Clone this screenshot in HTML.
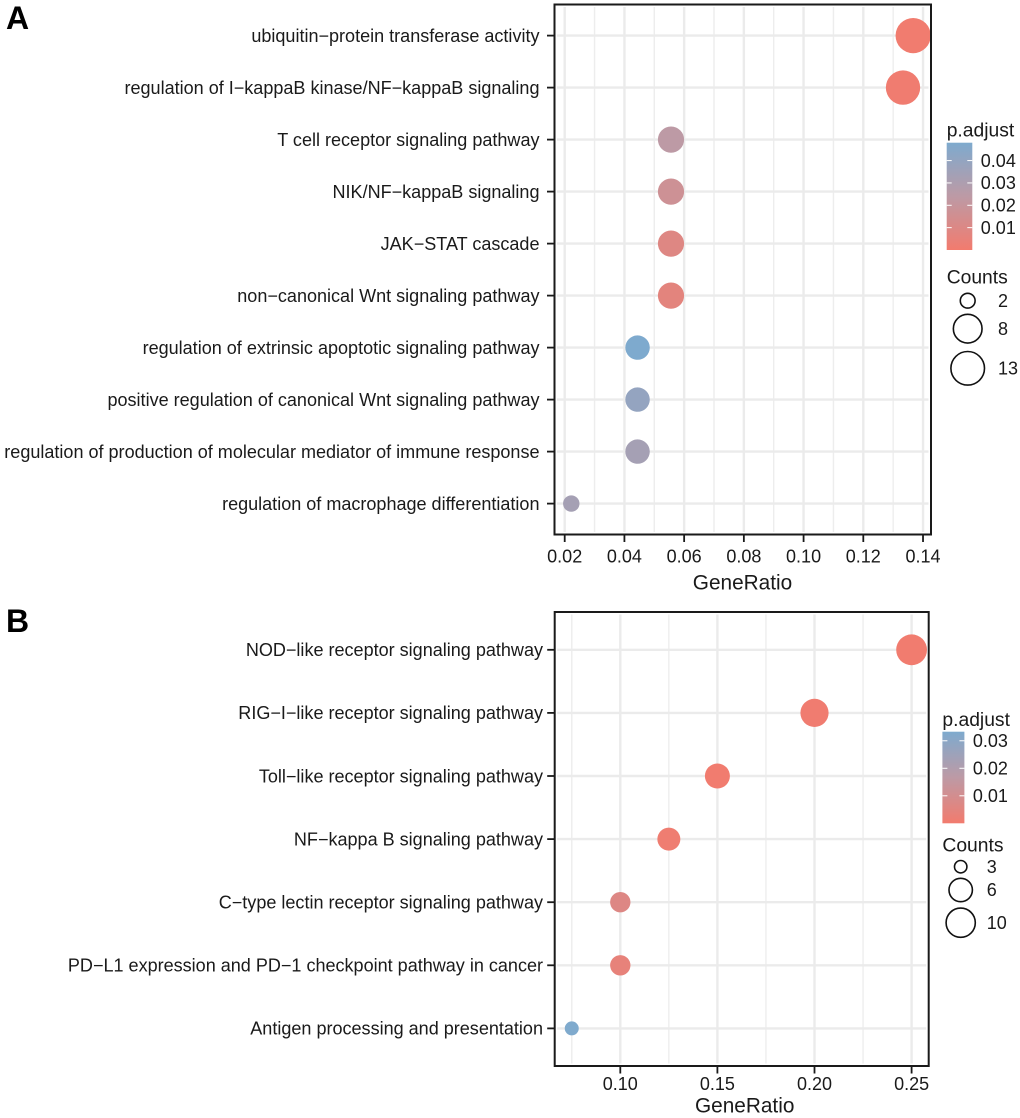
<!DOCTYPE html>
<html lang="en">
<head>
<meta charset="utf-8">
<title>GO and KEGG enrichment dot plots</title>
<style>
  html, body { margin: 0; padding: 0; background: #fff; }
  svg { display: block; }
  text { font-family: "Liberation Sans", Arial, sans-serif; fill: #1a1a1a; }
</style>
</head>
<body>
<svg id="chart" xmlns="http://www.w3.org/2000/svg" width="1020" height="1118" viewBox="0 0 1020 1118">
  <defs>
    <linearGradient id="bar-gradient" x1="0" y1="1" x2="0" y2="0">
      <stop offset="0" stop-color="#f27b6e"/>
      <stop offset="0.5" stop-color="#bd9aa5"/>
      <stop offset="1" stop-color="#7eaace"/>
    </linearGradient>
  </defs>
  <text x="6" y="29" font-size="32" font-weight="bold" style="fill:#000">A</text>
  <text x="6" y="632" font-size="32" font-weight="bold" style="fill:#000">B</text>
</svg>
<script>
// Panel A data
const categoriesA = [
  "ubiquitin\u2212protein transferase activity",
  "regulation of I\u2212kappaB kinase/NF\u2212kappaB signaling",
  "T cell receptor signaling pathway",
  "NIK/NF\u2212kappaB signaling",
  "JAK\u2212STAT cascade",
  "non\u2212canonical Wnt signaling pathway",
  "regulation of extrinsic apoptotic signaling pathway",
  "positive regulation of canonical Wnt signaling pathway",
  "regulation of production of molecular mediator of immune response",
  "regulation of macrophage differentiation"
];
const geneRatioA = [0.1367, 0.1333, 0.0556, 0.0556, 0.0556, 0.0556, 0.0444, 0.0444, 0.0444, 0.0222];
const countsA = [13, 12, 5, 5, 5, 5, 4, 4, 4, 2];
const pAdjustA = [0.0005, 0.0008, 0.024, 0.0168, 0.009, 0.0067, 0.048, 0.0396, 0.033, 0.033];
const xMajorA = [0.02, 0.04, 0.06, 0.08, 0.10, 0.12, 0.14];
const xMinorA = [0.03, 0.05, 0.07, 0.09, 0.11, 0.13];
const xLabelsA = ["0.02", "0.04", "0.06", "0.08", "0.10", "0.12", "0.14"];
const barTicksA = [0.04, 0.03, 0.02, 0.01];
const barLabelsA = ["0.04", "0.03", "0.02", "0.01"];
const sizeKeysA = [2, 8, 13];

// Panel B data
const categoriesB = [
  "NOD\u2212like receptor signaling pathway",
  "RIG\u2212I\u2212like receptor signaling pathway",
  "Toll\u2212like receptor signaling pathway",
  "NF\u2212kappa B signaling pathway",
  "C\u2212type lectin receptor signaling pathway",
  "PD\u2212L1 expression and PD\u22121 checkpoint pathway in cancer",
  "Antigen processing and presentation"
];
const geneRatioB = [0.25, 0.20, 0.15, 0.125, 0.10, 0.10, 0.075];
const countsB = [10, 8, 6, 5, 4, 4, 3];
const pAdjustB = [0.0004, 0.0006, 0.0004, 0.001, 0.0067, 0.0035, 0.033];
const xMajorB = [0.10, 0.15, 0.20, 0.25];
const xMinorB = [0.075, 0.125, 0.175, 0.225];
const xLabelsB = ["0.10", "0.15", "0.20", "0.25"];
const barTicksB = [0.03, 0.02, 0.01];
const barLabelsB = ["0.03", "0.02", "0.01"];
const sizeKeysB = [3, 6, 10];

const NS = "http://www.w3.org/2000/svg";
const root = document.getElementById("chart");

function make(tag, attrs, parent) {
  const node = document.createElementNS(NS, tag);
  for (const key in attrs) node.setAttribute(key, attrs[key]);
  parent.appendChild(node);
  return node;
}

function mixColor(t) {
  const low = [242, 123, 110], mid = [189, 154, 165], high = [126, 170, 206];
  const c = Math.max(0, Math.min(1, t));
  const a = c < 0.5 ? low : mid;
  const b = c < 0.5 ? mid : high;
  const f = c < 0.5 ? c * 2 : (c - 0.5) * 2;
  return "rgb(" + a.map((v, i) => Math.round(v + (b[i] - v) * f)).join(",") + ")";
}

function drawPanel(o) {
  const g = make("g", {}, root);
  
  

  const xScale = v => o.x0 + (v - o.v0) * o.xPerUnit;
  const yScale = i => o.yFirst + i * o.yStep;
  const rScale = c => o.rMin + (o.rMax - o.rMin) * Math.sqrt((c - o.cMin) / (o.cMax - o.cMin));
  const barY = p => o.barBottom - (p / o.pMax) * (o.barBottom - o.barTop);
  const inset = 2.5;

  // Minor vertical grid
  o.xMinor.forEach(v => {
    const line = make("line", { x1: xScale(v), x2: xScale(v), y1: o.top + inset, y2: o.bottom - inset, stroke: "#ededed", "stroke-width": 1.4 }, g);
    
    
  });
  // Major vertical grid
  o.xMajor.forEach(v => {
    const line = make("line", { x1: xScale(v), x2: xScale(v), y1: o.top + inset, y2: o.bottom - inset, stroke: "#ebebeb", "stroke-width": 2.4 }, g);
    
    
  });
  // Horizontal grid, y ticks and category labels
  o.categories.forEach((name, i) => {
    const y = yScale(i);
    const grid = make("line", { x1: o.left + inset, x2: o.right - inset, y1: y, y2: y, stroke: "#ebebeb", "stroke-width": 2.4 }, g);
    
    
    const tick = make("line", { x1: o.left - 7.5, x2: o.left, y1: y, y2: y, stroke: "#1a1a1a", "stroke-width": 1.8 }, g);
    
    
    const label = make("text", { x: o.left - o.labelGap, y: y + 6.3, "font-size": 18.05, "text-anchor": "end" }, g);
    label.textContent = name;
    
    
  });
  // Dots
  o.categories.forEach((name, i) => {
    const dot = make("circle", { cx: xScale(o.ratio[i]), cy: yScale(i), r: rScale(o.counts[i]), fill: mixColor(o.padj[i] / o.pMax) }, g);
    
    
  });
  // Panel border
  const border = make("rect", { x: o.left, y: o.top, width: o.right - o.left, height: o.bottom - o.top, fill: "none", stroke: "#1a1a1a", "stroke-width": 2 }, g);
  
  
  // X ticks and labels
  o.xMajor.forEach((v, i) => {
    const tick = make("line", { x1: xScale(v), x2: xScale(v), y1: o.bottom, y2: o.bottom + 7.5, stroke: "#1a1a1a", "stroke-width": 1.8 }, g);
    
    
    const label = make("text", { x: xScale(v), y: o.tickBase, "font-size": 18, "text-anchor": "middle" }, g);
    label.textContent = o.xLabels[i];
    
    
  });
  const title = make("text", { x: o.titleX, y: o.titleBase, "font-size": 20.8, "text-anchor": "middle" }, g);
  title.textContent = "GeneRatio";
  
  

  // Colour legend
  const padjTitle = make("text", { x: o.barLeft, y: o.padjBase, "font-size": 19.3 }, g);
  padjTitle.textContent = "p.adjust";
  
  
  const bar = make("rect", { x: o.barLeft, y: o.barTop, width: o.barRight - o.barLeft, height: o.barBottom - o.barTop, fill: "url(#bar-gradient)" }, g);
  
  
  o.barTicks.forEach((p, i) => {
    const y = barY(p);
    const left = make("line", { x1: o.barLeft, x2: o.barLeft + 5, y1: y, y2: y, stroke: "#fff", "stroke-width": 1 }, g);
    
    
    const right = make("line", { x1: o.barRight - 5, x2: o.barRight, y1: y, y2: y, stroke: "#fff", "stroke-width": 1 }, g);
    
    
    const label = make("text", { x: o.barRight + 8.5, y: y + 6.2, "font-size": 18 }, g);
    label.textContent = o.barLabels[i];
    
    
  });

  // Size legend
  const countsTitle = make("text", { x: o.barLeft, y: o.countsBase, "font-size": 19.3 }, g);
  countsTitle.textContent = "Counts";
  
  
  o.sizeKeys.forEach((c, i) => {
    const y = o.keyY[i];
    const key = make("circle", { cx: o.keyX, cy: y, r: rScale(c) - 0.8, fill: "none", stroke: "#111", "stroke-width": 1.6 }, g);
    
    
    const label = make("text", { x: o.keyLabelX, y: y + 6.2, "font-size": 18 }, g);
    label.textContent = String(c);
    
    
  });
}

drawPanel({
  id: "panel-a",
  categories: categoriesA, ratio: geneRatioA, counts: countsA, padj: pAdjustA,
  xMajor: xMajorA, xMinor: xMinorA, xLabels: xLabelsA,
  barTicks: barTicksA, barLabels: barLabelsA, sizeKeys: sizeKeysA,
  left: 554.5, right: 931, top: 4.5, bottom: 534.5, labelGap: 15,
  x0: 564.7, v0: 0.02, xPerUnit: 2986,
  yFirst: 35.6, yStep: 52.0,
  rMin: 8.2, rMax: 17.6, cMin: 2, cMax: 13,
  tickBase: 562.5, titleX: 742.5, titleBase: 589.7,
  barLeft: 946.7, barRight: 972.3, barTop: 142.7, barBottom: 250, pMax: 0.048,
  padjBase: 136.7, countsBase: 283.5,
  keyX: 967.7, keyY: [300.7, 328.7, 368.3], keyLabelX: 998
});

drawPanel({
  id: "panel-b",
  categories: categoriesB, ratio: geneRatioB, counts: countsB, padj: pAdjustB,
  xMajor: xMajorB, xMinor: xMinorB, xLabels: xLabelsB,
  barTicks: barTicksB, barLabels: barLabelsB, sizeKeys: sizeKeysB,
  left: 554.7, right: 928.7, top: 612, bottom: 1066, labelGap: 11.7,
  x0: 620.3, v0: 0.10, xPerUnit: 1942,
  yFirst: 649.8, yStep: 63.1,
  rMin: 7, rMax: 15.4, cMin: 3, cMax: 10,
  tickBase: 1090, titleX: 744.7, titleBase: 1112.7,
  barLeft: 942.4, barRight: 964.4, barTop: 731.7, barBottom: 823.3, pMax: 0.0333,
  padjBase: 726, countsBase: 851.7,
  keyX: 960.7, keyY: [866.7, 890, 922.7], keyLabelX: 986.7
});
</script>
</body>
</html>
